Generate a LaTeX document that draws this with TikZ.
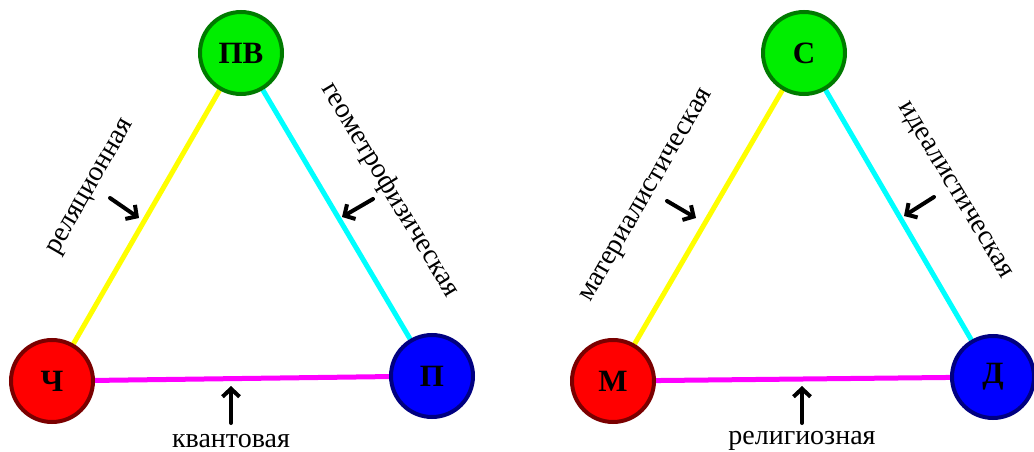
\documentclass[tikz,border=0pt]{standalone}
\usepackage{fontspec}
\setmainfont{Liberation Serif}
\usetikzlibrary{arrows.meta,backgrounds}
\definecolor{lgreen}{HTML}{00EE00}
\definecolor{dgreen}{HTML}{007A00}
\definecolor{lred}{HTML}{FF0000}
\definecolor{dred}{HTML}{7A0000}
\definecolor{lblue}{HTML}{0000FF}
\definecolor{dblue}{HTML}{000080}
\definecolor{lyellow}{HTML}{FFFF00}
\definecolor{lcyan}{HTML}{00FFFF}
\definecolor{lmagenta}{HTML}{FF00FF}
\tikzset{
  vert/.style={circle, minimum size=82pt, inner sep=0pt, line width=4pt,
    font=\fontsize{31}{31}\selectfont\bfseries},
  gvert/.style={vert, fill=lgreen, draw=dgreen},
  rvert/.style={vert, fill=lred, draw=dred},
  bvert/.style={vert, fill=lblue, draw=dblue},
  edge/.style={line width=5pt},
  lab/.style={font=\fontsize{28}{28}\selectfont, inner sep=0pt},
  pointer/.style={line width=4pt, line join=round, line cap=round,
    -{Straight Barb[length=8pt,width=17pt,line width=4pt]}},
}
\begin{document}
\begin{tikzpicture}[x=1pt,y=-1pt]
\useasboundingbox (0,0) rectangle (1034,452);
% left triangle
\node[gvert] (pv) at (241,53) {ПВ};
\node[rvert] (ch) at (52,381) {Ч};
\node[bvert] (p) at (432,376) {П};
% right triangle
\node[gvert] (s) at (804,53) {С};
\node[rvert] (m) at (613,381) {М};
\node[bvert] (d) at (993,377) {Д};
\begin{scope}[on background layer]
  \draw[edge, lyellow] (ch) -- (pv);
  \draw[edge, lcyan] (pv) -- (p);
  \draw[edge, lmagenta] (ch) -- (p);
  \draw[edge, lyellow] (m) -- (s);
  \draw[edge, lcyan] (s) -- (d);
  \draw[edge, lmagenta] (m) -- (d);
\end{scope}
% labels
\node[lab, rotate=60] (l1) at (92,188) {реляционная};
\node[lab, rotate=-59] (l2) at (390,190) {геометрофизическая};
\node[lab] (l3) at (231,441) {квантовая};
\node[lab, rotate=60] (l4) at (648,196) {материалистическая};
\node[lab, rotate=-59] (l5) at (954,191) {идеалистическая};
\node[lab] (l6) at (802,441) {религиозная};
% pointer arrows
\coordinate (a1s) at (110,198); \coordinate (a1e) at (139,218);
\coordinate (a2s) at (373,199); \coordinate (a2e) at (342,217);
\coordinate (a3s) at (231,423); \coordinate (a3e) at (231,386);
\coordinate (a4s) at (667,201); \coordinate (a4e) at (696,218);
\coordinate (a5s) at (934,197); \coordinate (a5e) at (904,216);
\coordinate (a6s) at (802,423); \coordinate (a6e) at (802,386);
\draw[pointer] (a1s) -- (a1e);
\draw[pointer] (a2s) -- (a2e);
\draw[pointer] (a3s) -- (a3e);
\draw[pointer] (a4s) -- (a4e);
\draw[pointer] (a5s) -- (a5e);
\draw[pointer] (a6s) -- (a6e);
\end{tikzpicture}
\end{document}
